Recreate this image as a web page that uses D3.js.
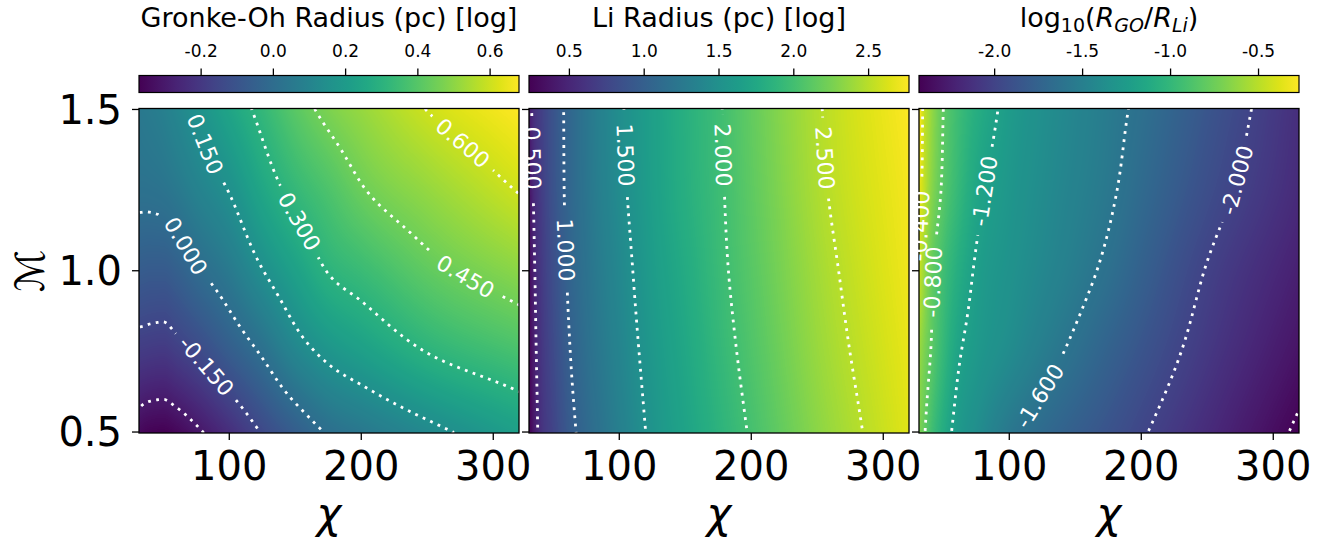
<!DOCTYPE html>
<html>
<head>
<meta charset="utf-8">
<script src="https://cdn.jsdelivr.net/npm/d3@7"></script>
<style>
  body { margin: 0; background: #fff; }
  svg { display: block; font-family: "DejaVu Sans", sans-serif; }
</style>
</head>
<body>
<svg id="chart" width="1331" height="547"></svg>
<script>
// grid nodes the values were read at
const chiNodes = [32, 35, 40, 50, 60, 75, 100, 125, 150, 175, 200, 250, 320];
const machNodes = [0.5, 0.75, 1.0, 1.25, 1.5];

// log Gronke-Oh radius, one row per machNodes entry
const goRadius = [
  [-0.35, -0.36, -0.368, -0.372, -0.355, -0.315, -0.236, -0.144, -0.064, 0.008, 0.046, 0.122, 0.22],
  [-0.19, -0.192, -0.196, -0.2, -0.18, -0.144, -0.067, 0.012, 0.108, 0.174, 0.218, 0.303, 0.376],
  [-0.07, -0.072, -0.075, -0.075, -0.055, -0.011, 0.055, 0.147, 0.227, 0.304, 0.343, 0.423, 0.50],
  [0.02, 0.02, 0.022, 0.03, 0.05, 0.09, 0.154, 0.25, 0.328, 0.385, 0.443, 0.513, 0.605],
  [0.05, 0.055, 0.062, 0.08, 0.11, 0.158, 0.242, 0.327, 0.41, 0.473, 0.516, 0.602, 0.68]
];
// log Li radius
const liRadius = [
  [0.23, 0.37, 0.56, 0.74, 0.91, 1.08, 1.32, 1.54, 1.70, 1.86, 2.02, 2.33, 2.66],
  [0.27, 0.42, 0.59, 0.79, 0.96, 1.14, 1.37, 1.58, 1.74, 1.91, 2.07, 2.38, 2.69],
  [0.31, 0.46, 0.62, 0.83, 1.0, 1.18, 1.41, 1.62, 1.78, 1.95, 2.11, 2.42, 2.72],
  [0.36, 0.51, 0.65, 0.87, 1.025, 1.21, 1.45, 1.65, 1.82, 1.97, 2.14, 2.46, 2.74],
  [0.42, 0.56, 0.68, 0.88, 1.03, 1.22, 1.47, 1.66, 1.83, 1.98, 2.16, 2.48, 2.77]
];
// log10(R_GO / R_Li)
const radiusRatio = [
  [-0.70, -0.77, -0.90, -1.10, -1.25, -1.37, -1.57, -1.69, -1.79, -1.88, -1.98, -2.17, -2.43],
  [-0.60, -0.68, -0.79, -0.99, -1.16, -1.27, -1.39, -1.52, -1.64, -1.76, -1.87, -2.08, -2.33],
  [-0.45, -0.57, -0.74, -0.93, -1.07, -1.22, -1.33, -1.43, -1.53, -1.64, -1.77, -2.01, -2.25],
  [-0.35, -0.45, -0.62, -0.83, -0.97, -1.15, -1.29, -1.39, -1.48, -1.57, -1.69, -1.92, -2.18],
  [-0.27, -0.43, -0.58, -0.80, -0.93, -1.08, -1.25, -1.36, -1.45, -1.54, -1.64, -1.86, -2.15]
];

const goLevels = [-0.3, -0.15, 0, 0.15, 0.3, 0.45, 0.6];
const liLevels = [0.5, 1.0, 1.5, 2.0, 2.5];
const ratioLevels = [-2.4, -2.0, -1.6, -1.2, -0.8, -0.4];

// [level, chi, M] where each contour label sits
const goLabelSpots = [[-0.15, 84, 0.71], [0, 71.5, 1.086], [0.15, 82.8, 1.396], [0.3, 151, 1.148], [0.45, 277.3, 0.972], [0.6, 274.7, 1.386]];
const liLabelSpots = [[0.5, 36.6, 1.35], [1.0, 61.4, 1.065], [1.5, 105.6, 1.36], [2.0, 178.8, 1.36], [2.5, 256.6, 1.35]];
const ratioLabelSpots = [[-0.4, 32.5, 1.14], [-0.8, 42.4, 0.966], [-1.2, 79.9, 1.248], [-1.6, 122, 0.614], [-2.0, 268.5, 1.286]];

const goCbarTicks = [-0.2, 0.0, 0.2, 0.4, 0.6];
const liCbarTicks = [0.5, 1.0, 1.5, 2.0, 2.5];
const ratioCbarTicks = [-2.0, -1.5, -1.0, -0.5];

const xTicks = [100, 200, 300];
const yTicks = [0.5, 1.0, 1.5];

// layout
const panelW = 380, panelTop = 108.5, panelBottom = 433;
const panelH = panelBottom - panelTop;
const panelX = [139, 529, 919];
const cbarTop = 75.5, cbarH = 17;

const svg = d3.select("#chart");
const defs = svg.append("defs");

const grad = defs.append("linearGradient").attr("id", "viridisGrad");
d3.range(0, 1.0001, 0.05).forEach(t => {
  grad.append("stop").attr("offset", t).attr("stop-color", d3.interpolateViridis(t));
});

const yScale = d3.scaleLinear().domain([0.497, 1.503]).range([panelBottom, panelTop]);

// monotone cubic through the grid nodes (only used to shade between read values)
function slopes(xs, ys) {
  const n = xs.length, h = [], s = [], m = new Array(n);
  for (let i = 0; i < n - 1; i++) { h[i] = xs[i + 1] - xs[i]; s[i] = (ys[i + 1] - ys[i]) / h[i]; }
  for (let i = 1; i < n - 1; i++) {
    const p = (s[i - 1] * h[i] + s[i] * h[i - 1]) / (h[i - 1] + h[i]);
    m[i] = (Math.sign(s[i - 1]) + Math.sign(s[i])) * Math.min(Math.abs(s[i - 1]), Math.abs(s[i]), 0.5 * Math.abs(p)) || 0;
  }
  m[0] = s[0];
  m[n - 1] = s[n - 2];
  return m;
}
function hermite(xs, ys, m, x) {
  let i = d3.bisectRight(xs, x) - 1;
  i = Math.max(0, Math.min(xs.length - 2, i));
  const h = xs[i + 1] - xs[i], t = (x - xs[i]) / h, t2 = t * t, t3 = t2 * t;
  return (2 * t3 - 3 * t2 + 1) * ys[i] + (t3 - 2 * t2 + t) * h * m[i] +
         (-2 * t3 + 3 * t2) * ys[i + 1] + (t3 - t2) * h * m[i + 1];
}
function makeField(grid) {
  const rowSlopes = grid.map(row => slopes(chiNodes, row));
  return chi => {
    const c = Math.max(chiNodes[0], Math.min(chiNodes[chiNodes.length - 1], chi));
    const vals = grid.map((row, r) => hermite(chiNodes, row, rowSlopes[r], c));
    const ms = slopes(machNodes, vals);
    return M => hermite(machNodes, vals, ms, Math.max(0.5, Math.min(1.5, M)));
  };
}

const panels = [
  { grid: goRadius, levels: goLevels, spots: goLabelSpots, cbarTicks: goCbarTicks, title: "Gronke-Oh Radius (pc) [log]" },
  { grid: liRadius, levels: liLevels, spots: liLabelSpots, cbarTicks: liCbarTicks, title: "Li Radius (pc) [log]" },
  { grid: radiusRatio, levels: ratioLevels, spots: ratioLabelSpots, cbarTicks: ratioCbarTicks, title: null }
];

panels.forEach((p, k) => {
  const x0 = panelX[k];
  const x = d3.scaleLinear().domain([31.6, 319.5]).range([x0, x0 + panelW]);
  const field = makeField(p.grid);
  const extent = d3.extent(p.grid.flat());
  const lut = d3.range(256).map(i => d3.rgb(d3.interpolateViridis(i / 255)));

  // heat map
  const imgH = Math.ceil(panelH);
  const canvas = document.createElement("canvas");
  canvas.width = panelW; canvas.height = imgH;
  const ctx = canvas.getContext("2d");
  const img = ctx.createImageData(panelW, imgH);
  for (let i = 0; i < panelW; i++) {
    const col = field(x.invert(x0 + i + 0.5));
    for (let j = 0; j < imgH; j++) {
      const v = col(yScale.invert(panelTop + (j + 0.5) * panelH / imgH));
      const t = Math.max(0, Math.min(1, (v - extent[0]) / (extent[1] - extent[0])));
      const c = lut[Math.round(t * 255)];
      const o = (j * panelW + i) * 4;
      img.data[o] = c.r; img.data[o + 1] = c.g; img.data[o + 2] = c.b; img.data[o + 3] = 255;
    }
  }
  ctx.putImageData(img, 0, 0);

  const g = svg.append("g");
  g.append("image")
    .attr("href", canvas.toDataURL())
    .attr("x", x0).attr("y", panelTop)
    .attr("width", panelW).attr("height", panelH)
    .attr("preserveAspectRatio", "none");

  // contours on a padded grid so the grid-edge rings fall outside the clip
  const pad = 6, gw = panelW + 2 * pad, gh = imgH + 2 * pad;
  const values = new Float64Array(gw * gh);
  for (let i = 0; i < gw; i++) {
    const col = field(x.invert(x0 - pad + i + 0.5));
    for (let j = 0; j < gh; j++) values[j * gw + i] = col(yScale.invert(panelTop - pad + j + 0.5));
  }
  const contours = d3.contours().size([gw, gh]).smooth(true).thresholds(p.levels)(values);
  const toPx = pt => [x0 - pad + pt[0], panelTop - pad + pt[1]];

  defs.append("clipPath").attr("id", "clip" + k)
    .append("rect").attr("x", x0).attr("y", panelTop).attr("width", panelW).attr("height", panelH);
  const mask = defs.append("mask").attr("id", "gap" + k).attr("maskUnits", "userSpaceOnUse")
    .attr("x", 0).attr("y", 0).attr("width", 1331).attr("height", 547);
  mask.append("rect").attr("width", 1331).attr("height", 547).attr("fill", "#fff");

  const path = d3.geoPath(d3.geoIdentity().translate([x0 - pad, panelTop - pad]));
  g.append("g")
    .attr("clip-path", `url(#clip${k})`)
    .append("g")
    .attr("mask", `url(#gap${k})`)
    .selectAll("path")
    .data(contours)
    .join("path")
    .attr("d", path)
    .attr("fill", "none")
    .attr("stroke", "#fff")
    .attr("stroke-width", 2.8)
    .attr("stroke-dasharray", "2.8 5.4");

  // frame
  g.append("rect").attr("x", x0).attr("y", panelTop).attr("width", panelW).attr("height", panelH)
    .attr("fill", "none").attr("stroke", "#000").attr("stroke-width", 1.3);

  // contour labels
  p.spots.forEach(([level, chi, M]) => {
    const c = contours.find(d => Math.abs(d.value - level) < 1e-9);
    const target = [x(chi), yScale(M)];
    let best = null, bestD = Infinity;
    c.coordinates.forEach(poly => poly.forEach(ring => {
      const n = ring.length - 1;
      ring.forEach((pt, idx) => {
        const q = toPx(pt);
        if (q[0] < x0 + 0.5 || q[0] > x0 + panelW - 0.5 || q[1] < panelTop + 0.5 || q[1] > panelBottom - 0.5) return;
        const dd = (q[0] - target[0]) ** 2 + (q[1] - target[1]) ** 2;
        if (dd < bestD) { bestD = dd; best = { ring, idx, n, q }; }
      });
    }));
    let angle = 0, pos = target;
    if (best) {
      const a = toPx(best.ring[(best.idx - 4 + best.n) % best.n]);
      const b = toPx(best.ring[(best.idx + 4) % best.n]);
      angle = Math.atan2(b[1] - a[1], b[0] - a[0]) * 180 / Math.PI;
      if (angle > 90) angle -= 180;
      if (angle <= -90) angle += 180;
      pos = best.q;
    }
    const label = svg.append("text")
      .attr("transform", `translate(${pos[0]},${pos[1]}) rotate(${angle})`)
      .attr("text-anchor", "middle")
      .attr("dy", "0.36em")
      .attr("font-size", 22)
      .attr("fill", "#fff")
      .text(level.toFixed(3));
    const len = label.node().getComputedTextLength();
    mask.append("rect")
      .attr("transform", `translate(${pos[0]},${pos[1]}) rotate(${angle})`)
      .attr("x", -len / 2 - 9).attr("y", -11)
      .attr("width", len + 18).attr("height", 22)
      .attr("fill", "#000");
  });

  // axis ticks
  const ax = svg.append("g").attr("stroke", "#000").attr("stroke-width", 1.3);
  xTicks.forEach(t => {
    ax.append("line").attr("x1", x(t)).attr("x2", x(t)).attr("y1", panelBottom).attr("y2", panelBottom + 7);
    svg.append("text").attr("x", x(t)).attr("y", 480).attr("text-anchor", "middle")
      .attr("font-size", 40).text(t);
  });
  yTicks.forEach(t => {
    ax.append("line").attr("x1", x0).attr("x2", x0 - 7).attr("y1", yScale(t)).attr("y2", yScale(t));
    if (k === 0) {
      svg.append("text").attr("x", 122).attr("y", yScale(t)).attr("dy", "0.36em")
        .attr("text-anchor", "end").attr("font-size", 40).text(t.toFixed(1));
    }
  });
  svg.append("text").attr("x", x0 + panelW / 2).attr("y", 528).attr("text-anchor", "middle")
    .attr("font-size", 42).attr("font-style", "italic").text("χ");

  // colorbar
  const cx = d3.scaleLinear().domain(extent).range([x0, x0 + panelW]);
  svg.append("rect").attr("x", x0).attr("y", cbarTop).attr("width", panelW).attr("height", cbarH)
    .attr("fill", "url(#viridisGrad)").attr("stroke", "#000").attr("stroke-width", 1.2);
  p.cbarTicks.forEach(t => {
    svg.append("line").attr("x1", cx(t)).attr("x2", cx(t)).attr("y1", cbarTop).attr("y2", cbarTop - 7)
      .attr("stroke", "#000").attr("stroke-width", 1.3);
    svg.append("text").attr("x", cx(t)).attr("y", 57).attr("text-anchor", "middle")
      .attr("font-size", 17).text(t.toFixed(1));
  });
  const title = svg.append("text").attr("x", x0 + panelW / 2).attr("y", 27)
    .attr("text-anchor", "middle").attr("font-size", 27);
  if (p.title) {
    title.text(p.title);
  } else {
    title.append("tspan").text("log");
    title.append("tspan").attr("font-size", 19).attr("dy", 5).text("10");
    title.append("tspan").attr("dy", -5).text("(");
    title.append("tspan").attr("font-style", "italic").text("R");
    title.append("tspan").attr("font-style", "italic").attr("font-size", 19).attr("dy", 5).text("GO");
    title.append("tspan").attr("dy", -5).text("/");
    title.append("tspan").attr("font-style", "italic").text("R");
    title.append("tspan").attr("font-style", "italic").attr("font-size", 19).attr("dy", 5).text("Li");
    title.append("tspan").attr("dy", -5).text(")");
  }
});

// y axis label
svg.append("text")
  .attr("transform", `translate(44,${(panelTop + panelBottom) / 2}) rotate(-90)`)
  .attr("text-anchor", "middle")
  .attr("font-size", 40)
  .text("ℳ");
</script>
</body>
</html>
